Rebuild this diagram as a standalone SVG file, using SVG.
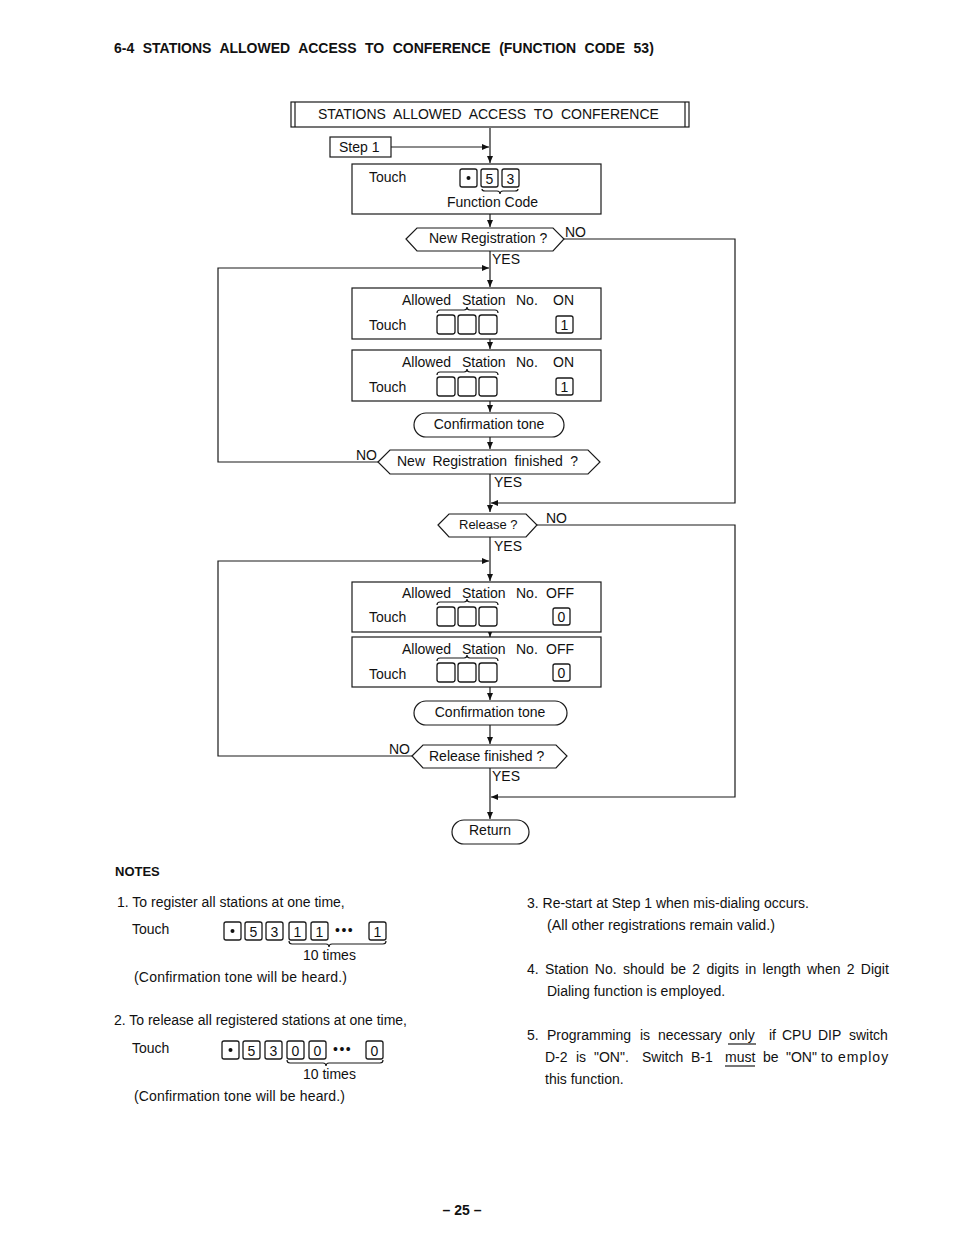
<svg xmlns="http://www.w3.org/2000/svg" width="954" height="1235" viewBox="0 0 954 1235">
<defs>
<marker id="ah" markerWidth="8" markerHeight="6" refX="7" refY="3" orient="auto" markerUnits="userSpaceOnUse">
<path d="M0,0 L7,3 L0,6 Z" fill="#111"/>
</marker>
<style>
.ln{stroke:#1a1a1a;stroke-width:1.2;fill:none}
.bx{stroke:#1a1a1a;stroke-width:1.2;fill:#fff}
.k{stroke:#1a1a1a;stroke-width:1.3;fill:#fff}
.t{font-family:"Liberation Sans",Arial,sans-serif;font-size:14px;fill:#111}
.s{font-size:13px}
.c{text-anchor:middle}
.b{font-weight:bold}
.kt{font-family:"Liberation Sans",Arial,sans-serif;font-size:14px;fill:#111;text-anchor:middle}
</style>
</defs>
<rect width="954" height="1235" fill="#fff"/>

<text class="t b" x="114" y="53" font-size="13.5" word-spacing="4.6">6-4 STATIONS ALLOWED ACCESS TO CONFERENCE (FUNCTION CODE 53)</text>

<g id="connectors">
<path class="ln" d="M490,128 V163" marker-end="url(#ah)"/>
<path class="ln" d="M391,147 H489" marker-end="url(#ah)"/>
<path class="ln" d="M490,214 V227" marker-end="url(#ah)"/>
<path class="ln" d="M490,251 V287" marker-end="url(#ah)"/>
<path class="ln" d="M378,462 H218 V268 H489" marker-end="url(#ah)"/>
<path class="ln" d="M490,339 V349" marker-end="url(#ah)"/>
<path class="ln" d="M490,401 V412" marker-end="url(#ah)"/>
<path class="ln" d="M490,437 V449" marker-end="url(#ah)"/>
<path class="ln" d="M564,239 H735 V503 H491" marker-end="url(#ah)"/>
<path class="ln" d="M490,474 V512" marker-end="url(#ah)"/>
<path class="ln" d="M490,537 V581" marker-end="url(#ah)"/>
<path class="ln" d="M412,756 H218 V561 H489" marker-end="url(#ah)"/>
<path class="ln" d="M490,632 V637" marker-end="url(#ah)"/>
<path class="ln" d="M490,687 V700" marker-end="url(#ah)"/>
<path class="ln" d="M490,725 V744" marker-end="url(#ah)"/>
<path class="ln" d="M537,525 H735 V797 H491" marker-end="url(#ah)"/>
<path class="ln" d="M490,768 V819" marker-end="url(#ah)"/>
</g>

<g id="header">
<rect class="bx" x="291" y="102" width="398" height="25"/>
<line class="ln" x1="295" y1="102" x2="295" y2="127"/>
<line class="ln" x1="685" y1="102" x2="685" y2="127"/>
<text class="t" x="318" y="119" word-spacing="4">STATIONS ALLOWED ACCESS TO CONFERENCE</text>
</g>

<g id="step1">
<rect class="bx" x="330" y="137" width="61" height="20"/>
<text class="t" x="339" y="152">Step 1</text>
</g>

<g id="touch-fc">
<rect class="bx" x="352" y="164" width="249" height="50"/>
<text class="t" x="369" y="182">Touch</text>
<rect class="k" x="460" y="169" width="17" height="18" rx="2"/>
<circle cx="468.5" cy="178" r="2" fill="#111"/>
<rect class="k" x="481" y="169" width="17" height="18" rx="2"/>
<text class="kt" x="489.5" y="184">5</text>
<rect class="k" x="502" y="169" width="17" height="18" rx="2"/>
<text class="kt" x="510.5" y="184">3</text>
<path class="ln" d="M482,189 Q482,191 485,191 H497 Q500,191 500,194 Q500,191 503,191 H515 Q518,191 518,189" stroke-width="0.9"/>
<text class="t" x="447" y="207">Function Code</text>
</g>

<g id="new-reg">
<polygon class="bx" points="406,239 417,228 553,228 564,239 553,251 417,251"/>
<text class="t" x="429" y="243">New Registration ?</text>
<text class="t" x="565" y="237">NO</text>
<text class="t" x="492" y="264">YES</text>
</g>

<g id="allow-on-1">
<rect class="bx" x="352" y="288" width="249" height="51"/>
<text class="t" y="305"><tspan x="402">Allowed</tspan><tspan x="462">Station</tspan><tspan x="516">No.</tspan><tspan x="553">ON</tspan></text>
<path class="ln" d="M437,313 Q437,310 440,310 H464 Q467,310 467,307 Q467,310 470,310 H495 Q498,310 498,313" stroke-width="0.9"/>
<text class="t" x="369" y="330">Touch</text>
<rect class="k" x="437" y="315" width="18" height="19" rx="2.5"/>
<rect class="k" x="458" y="315" width="18" height="19" rx="2.5"/>
<rect class="k" x="479" y="315" width="18" height="19" rx="2.5"/>
<rect class="k" x="556" y="316" width="17" height="17" rx="2"/>
<text class="kt" x="564.5" y="330">1</text>
</g>

<g id="allow-on-2">
<rect class="bx" x="352" y="350" width="249" height="51"/>
<text class="t" y="367"><tspan x="402">Allowed</tspan><tspan x="462">Station</tspan><tspan x="516">No.</tspan><tspan x="553">ON</tspan></text>
<path class="ln" d="M437,375 Q437,372 440,372 H464 Q467,372 467,369 Q467,372 470,372 H495 Q498,372 498,375" stroke-width="0.9"/>
<text class="t" x="369" y="392">Touch</text>
<rect class="k" x="437" y="377" width="18" height="19" rx="2.5"/>
<rect class="k" x="458" y="377" width="18" height="19" rx="2.5"/>
<rect class="k" x="479" y="377" width="18" height="19" rx="2.5"/>
<rect class="k" x="556" y="378" width="17" height="17" rx="2"/>
<text class="kt" x="564.5" y="392">1</text>
</g>

<g id="conf-tone-1">
<rect class="bx" x="414" y="413" width="150" height="24" rx="12"/>
<text class="t c" x="489" y="429">Confirmation  tone</text>
</g>

<g id="new-reg-fin">
<polygon class="bx" points="378,462 390,450 588,450 600,462 588,474 390,474"/>
<text class="t" x="397" y="466" word-spacing="3.5">New Registration finished ?</text>
<text class="t" x="356" y="460">NO</text>
<text class="t" x="494" y="487">YES</text>
</g>

<g id="release">
<polygon class="bx" points="438,525 449,514 526,514 537,525 526,537 449,537"/>
<text class="t s" x="459" y="529">Release ?</text>
<text class="t" x="546" y="523">NO</text>
<text class="t" x="494" y="551">YES</text>
</g>

<g id="allow-off-1">
<rect class="bx" x="352" y="582" width="249" height="50"/>
<text class="t" y="598"><tspan x="402">Allowed</tspan><tspan x="462">Station</tspan><tspan x="516">No.</tspan><tspan x="546">OFF</tspan></text>
<path class="ln" d="M437,605 Q437,602 440,602 H464 Q467,602 467,599 Q467,602 470,602 H495 Q498,602 498,605" stroke-width="0.9"/>
<text class="t" x="369" y="622">Touch</text>
<rect class="k" x="437" y="607" width="18" height="19" rx="2.5"/>
<rect class="k" x="458" y="607" width="18" height="19" rx="2.5"/>
<rect class="k" x="479" y="607" width="18" height="19" rx="2.5"/>
<rect class="k" x="553" y="608" width="17" height="17" rx="2"/>
<text class="kt" x="561.5" y="622">0</text>
</g>

<g id="allow-off-2">
<rect class="bx" x="352" y="637" width="249" height="50"/>
<text class="t" y="654"><tspan x="402">Allowed</tspan><tspan x="462">Station</tspan><tspan x="516">No.</tspan><tspan x="546">OFF</tspan></text>
<path class="ln" d="M437,661 Q437,658 440,658 H464 Q467,658 467,655 Q467,658 470,658 H495 Q498,658 498,661" stroke-width="0.9"/>
<text class="t" x="369" y="679">Touch</text>
<rect class="k" x="437" y="663" width="18" height="19" rx="2.5"/>
<rect class="k" x="458" y="663" width="18" height="19" rx="2.5"/>
<rect class="k" x="479" y="663" width="18" height="19" rx="2.5"/>
<rect class="k" x="553" y="664" width="17" height="17" rx="2"/>
<text class="kt" x="561.5" y="678">0</text>
</g>

<g id="conf-tone-2">
<rect class="bx" x="414" y="701" width="153" height="24" rx="12"/>
<text class="t c" x="490" y="717">Confirmation  tone</text>
</g>

<g id="release-fin">
<polygon class="bx" points="412,756 423,745 556,745 567,756 556,768 423,768"/>
<text class="t" x="429" y="761">Release finished ?</text>
<text class="t" x="389" y="754">NO</text>
<text class="t" x="492" y="781">YES</text>
</g>

<g id="return">
<rect class="bx" x="452" y="820" width="77" height="24" rx="12"/>
<text class="t c" x="490" y="835">Return</text>
</g>

<g id="notes">
<text class="t b s" x="115" y="876">NOTES</text>

<text class="t" x="117" y="907">1. To register all stations at one time,</text>
<text class="t" x="132" y="934">Touch</text>
<rect class="k" x="224" y="922" width="17" height="18" rx="2"/>
<circle cx="232.5" cy="931" r="2" fill="#111"/>
<rect class="k" x="245" y="922" width="17" height="18" rx="2"/>
<text class="kt" x="253.5" y="937">5</text>
<rect class="k" x="266" y="922" width="17" height="18" rx="2"/>
<text class="kt" x="274.5" y="937">3</text>
<rect class="k" x="289" y="922" width="17" height="18" rx="2"/>
<text class="kt" x="297.5" y="937">1</text>
<rect class="k" x="311" y="922" width="17" height="18" rx="2"/>
<text class="kt" x="319.5" y="937">1</text>
<text class="t" x="335" y="935" font-size="10" letter-spacing="1.5">•••</text>
<rect class="k" x="369" y="922" width="17" height="18" rx="2"/>
<text class="kt" x="377.5" y="937">1</text>
<path class="ln" d="M289,941 Q289,944 292,944 H326 Q329,944 329,947 Q329,944 332,944 H383 Q386,944 386,941" stroke-width="0.9"/>
<text class="t" x="303" y="960">10 times</text>
<text class="t" x="134" y="982" textLength="213" lengthAdjust="spacing">(Confirmation tone will be heard.)</text>

<text class="t" x="114" y="1025" textLength="293" lengthAdjust="spacing">2. To release all registered stations at one time,</text>
<text class="t" x="132" y="1053">Touch</text>
<rect class="k" x="222" y="1041" width="17" height="18" rx="2"/>
<circle cx="230.5" cy="1050" r="2" fill="#111"/>
<rect class="k" x="243" y="1041" width="17" height="18" rx="2"/>
<text class="kt" x="251.5" y="1056">5</text>
<rect class="k" x="265" y="1041" width="17" height="18" rx="2"/>
<text class="kt" x="273.5" y="1056">3</text>
<rect class="k" x="287" y="1041" width="17" height="18" rx="2"/>
<text class="kt" x="295.5" y="1056">0</text>
<rect class="k" x="309" y="1041" width="17" height="18" rx="2"/>
<text class="kt" x="317.5" y="1056">0</text>
<text class="t" x="333" y="1054" font-size="10" letter-spacing="1.5">•••</text>
<rect class="k" x="366" y="1041" width="17" height="18" rx="2"/>
<text class="kt" x="374.5" y="1056">0</text>
<path class="ln" d="M287,1060 Q287,1063 290,1063 H323 Q326,1063 326,1066 Q326,1063 329,1063 H380 Q383,1063 383,1060" stroke-width="0.9"/>
<text class="t" x="303" y="1079">10 times</text>
<text class="t" x="134" y="1101" textLength="211" lengthAdjust="spacing">(Confirmation tone will be heard.)</text>

<text class="t" x="527" y="908" textLength="282" lengthAdjust="spacingAndGlyphs">3. Re-start at Step 1 when mis-dialing occurs.</text>
<text class="t" x="547" y="930" textLength="228" lengthAdjust="spacingAndGlyphs">(All other registrations remain valid.)</text>

<text class="t" x="527" y="974" word-spacing="2.4">4. Station No. should be 2 digits in length when 2 Digit</text>
<text class="t" x="547" y="996">Dialing function is employed.</text>

<text class="t" y="1040"><tspan x="527">5.</tspan><tspan x="547">Programming</tspan><tspan x="640">is</tspan><tspan x="658">necessary</tspan><tspan x="729">only</tspan><tspan x="769">if</tspan><tspan x="782">CPU</tspan><tspan x="818">DIP</tspan><tspan x="849">switch</tspan></text>
<line class="ln" x1="728" y1="1044" x2="756" y2="1044" stroke-width="1"/>
<text class="t" y="1062"><tspan x="545">D-2</tspan><tspan x="576">is</tspan><tspan x="594">"ON".</tspan><tspan x="642">Switch</tspan><tspan x="691">B-1</tspan><tspan x="725">must</tspan><tspan x="763">be</tspan><tspan x="786">"ON"</tspan><tspan x="821">to</tspan><tspan x="838" letter-spacing="1">employ</tspan></text>
<line class="ln" x1="725" y1="1066" x2="755" y2="1066" stroke-width="1"/>
<text class="t" x="545" y="1084">this function.</text>
</g>

<text class="t b c" x="462" y="1215">– 25 –</text>
</svg>
